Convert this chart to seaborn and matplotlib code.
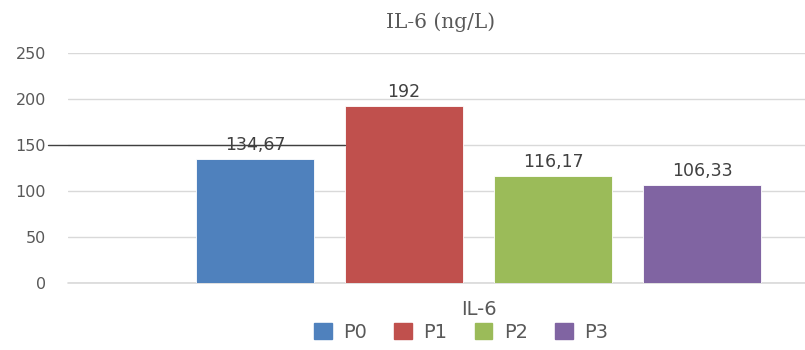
import matplotlib
matplotlib.use("Agg")
import matplotlib.pyplot as plt
import seaborn as sns
import pandas as pd

# data
groups = ["P0", "P1", "P2", "P3"]
il6_values = [134.67, 192, 116.17, 106.33]
category = ["IL-6"] * 4
bar_colors = ["#4F81BD", "#C0504D", "#9BBB59", "#8064A2"]
y_ticks = [0, 50, 100, 150, 200, 250]

sns.set_theme(style="white")
plt.rcParams['font.family'] = ['DejaVu Sans']

df = pd.DataFrame({"cat": category, "group": groups, "value": il6_values})

fig = plt.figure(figsize=(8.05, 3.5), dpi=100)
ax = fig.add_axes([68 / 805, 67 / 350, 737 / 805, 230 / 350])

sns.barplot(data=df, x="cat", y="value", hue="group", palette=bar_colors,
            saturation=1, width=0.8, gap=0.21, edgecolor="white",
            linewidth=0.6, legend=False, ax=ax)

ax.set_ylim(0, 250)
ax.set_xlim(-0.551, 0.438)
ax.set_yticks(y_ticks)
ax.set_yticklabels([str(t) for t in y_ticks], color="#595959", fontsize=11.5)
ax.yaxis.grid(True, color="#D9D9D9", linewidth=1)
ax.set_axisbelow(True)
ax.tick_params(axis="y", length=0, pad=16)
ax.tick_params(axis="x", length=0, pad=12)
ax.set_xticks([0])
ax.set_xticklabels(["IL-6"], color="#595959", fontsize=14)
for s in ax.spines.values():
    s.set_visible(False)
# baseline at zero (the grid line gets half clipped there)
ax.axhline(0, color="#D9D9D9", lw=1.2, clip_on=False, zorder=0)

# value labels with comma decimal
for cont in ax.containers:
    labels = [f"{v:g}".replace(".", ",") for v in cont.datavalues]
    ax.bar_label(cont, labels=labels, padding=4, color="#404040", fontsize=12.5)

ax.set_xlabel("")
ax.set_ylabel("")
ax.set_title("IL-6 (ng/L)", fontfamily="DejaVu Serif", color="#595959",
             fontsize=14.5, pad=18, x=0.505)

# stray line in the source image
ax.axhline(150, xmin=-0.027, xmax=0.376, color="#404040", lw=1, clip_on=False)

handles = [plt.Rectangle((0, 0), 1, 1, color=c) for c in bar_colors]
fig.legend(handles, groups, loc="lower center", bbox_to_anchor=(0.573, -0.01),
           ncol=4, frameon=False, fontsize=14, handlelength=0.9,
           handleheight=0.9, columnspacing=1.4, handletextpad=0.6,
           labelcolor="#595959", borderpad=0.1)

fig.savefig("out.png", dpi=100)
